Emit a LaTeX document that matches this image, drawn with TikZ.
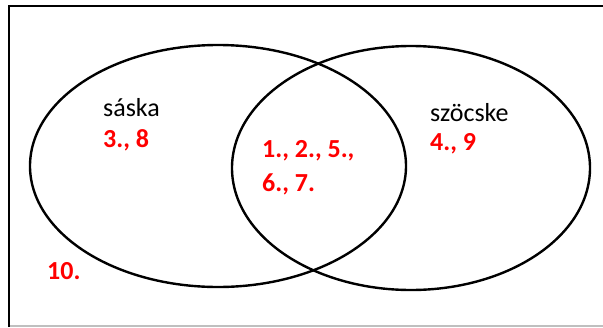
\documentclass[tikz,border=0pt]{standalone}
\usepackage{fontspec}
\setmainfont{Carlito}
\begin{document}
\begin{tikzpicture}[x=1pt,y=-1pt,
  setline/.style={line width=2.4pt},
  lbl/.style={anchor=base west,inner sep=0pt,font=\fontsize{26}{35}\selectfont},
  num/.style={lbl,text=red,font=\fontsize{26}{35}\selectfont\bfseries}]
\useasboundingbox (0,0) rectangle (603,327);
\draw[line width=2pt] (9,327) -- (9,6) -- (603,6);
\draw[line width=1.5pt,gray!50] (10,326) -- (603,326);
\draw[setline] (218,166) ellipse [x radius=188,y radius=121];
\draw[setline] (411,168) ellipse [x radius=179,y radius=122];
\node[lbl] (saska) at (103,116) {sáska};
\node[num] (n38) at (103,147) {3., 8};
\node[lbl] (szocske) at (430,121) {szöcske};
\node[num] (n49) at (430,150) {4., 9};
\node[num] (n125) at (262,157) {1., 2., 5.,};
\node[num] (n67) at (262,191) {6., 7.};
\node[num] (n10) at (47,279) {10.};
\end{tikzpicture}
\end{document}
